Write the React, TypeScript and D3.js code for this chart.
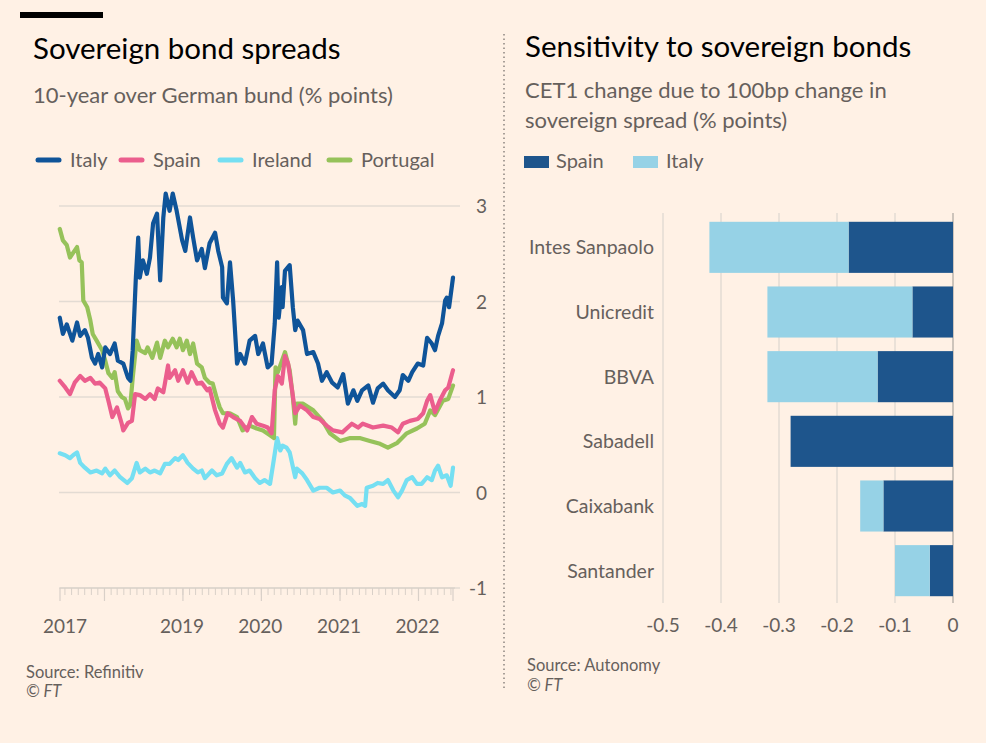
import React from "react";
import * as d3 from "d3";

// ---------- Left chart data (decimal year, % points) ----------
const italy: [number, number][] = [
  [2017.43,1.83],[2017.47,1.66],[2017.52,1.76],[2017.59,1.59],[2017.65,1.78],[2017.69,1.64],[2017.75,1.70],[2017.79,1.62],[2017.84,1.41],[2017.88,1.35],[2017.92,1.45],[2017.97,1.31],[2018.01,1.52],[2018.07,1.45],[2018.13,1.56],[2018.17,1.38],[2018.24,1.35],[2018.30,1.20],[2018.33,1.17],[2018.36,1.49],[2018.40,2.25],[2018.43,2.67],[2018.45,2.25],[2018.49,2.43],[2018.54,2.29],[2018.58,2.46],[2018.62,2.82],[2018.67,2.92],[2018.71,2.22],[2018.75,2.88],[2018.78,3.13],[2018.83,2.95],[2018.87,3.13],[2018.92,2.95],[2018.99,2.64],[2019.03,2.53],[2019.09,2.88],[2019.13,2.67],[2019.18,2.43],[2019.24,2.55],[2019.28,2.35],[2019.34,2.61],[2019.41,2.72],[2019.45,2.53],[2019.50,2.36],[2019.51,2.04],[2019.56,1.98],[2019.60,2.41],[2019.64,2.01],[2019.69,1.35],[2019.73,1.45],[2019.79,1.35],[2019.85,1.59],[2019.92,1.64],[2019.96,1.45],[2020.02,1.56],[2020.08,1.31],[2020.13,1.35],[2020.17,1.77],[2020.20,2.41],[2020.22,1.83],[2020.26,2.15],[2020.27,1.94],[2020.30,2.32],[2020.36,2.38],[2020.40,1.94],[2020.43,1.70],[2020.46,1.80],[2020.53,1.70],[2020.58,1.45],[2020.66,1.47],[2020.72,1.35],[2020.77,1.17],[2020.83,1.26],[2020.90,1.15],[2020.97,1.10],[2021.04,1.24],[2021.10,0.93],[2021.17,1.07],[2021.22,0.96],[2021.28,1.07],[2021.36,1.12],[2021.42,0.94],[2021.48,1.09],[2021.55,1.14],[2021.61,1.07],[2021.70,1.00],[2021.76,1.07],[2021.80,1.23],[2021.87,1.17],[2021.92,1.26],[2021.99,1.35],[2022.06,1.33],[2022.11,1.62],[2022.17,1.56],[2022.21,1.49],[2022.25,1.64],[2022.30,1.77],[2022.34,2.01],[2022.36,2.04],[2022.39,1.94],[2022.44,2.25]
];
const spain: [number, number][] = [
  [2017.43,1.17],[2017.50,1.10],[2017.56,1.03],[2017.62,1.15],[2017.69,1.22],[2017.75,1.17],[2017.82,1.20],[2017.88,1.14],[2017.94,1.15],[2018.01,1.09],[2018.05,0.96],[2018.10,0.79],[2018.16,0.89],[2018.22,0.72],[2018.24,0.65],[2018.30,0.73],[2018.35,0.75],[2018.39,1.03],[2018.45,1.02],[2018.52,0.98],[2018.58,1.03],[2018.64,0.98],[2018.68,1.09],[2018.75,1.05],[2018.77,1.14],[2018.81,1.33],[2018.83,1.20],[2018.90,1.28],[2018.94,1.17],[2019.00,1.28],[2019.06,1.15],[2019.11,1.26],[2019.18,1.14],[2019.24,1.15],[2019.31,1.07],[2019.34,1.09],[2019.41,0.86],[2019.47,0.72],[2019.51,0.68],[2019.57,0.83],[2019.64,0.79],[2019.73,0.75],[2019.82,0.65],[2019.88,0.79],[2019.94,0.72],[2020.02,0.70],[2020.08,0.68],[2020.13,0.62],[2020.17,1.07],[2020.21,1.22],[2020.26,1.14],[2020.30,1.43],[2020.34,1.35],[2020.39,1.07],[2020.43,0.83],[2020.49,0.91],[2020.58,0.86],[2020.66,0.79],[2020.74,0.77],[2020.83,0.70],[2020.91,0.65],[2021.03,0.63],[2021.15,0.72],[2021.23,0.68],[2021.29,0.72],[2021.42,0.68],[2021.55,0.70],[2021.66,0.68],[2021.74,0.63],[2021.80,0.72],[2021.89,0.75],[2021.99,0.77],[2022.06,0.83],[2022.11,0.96],[2022.15,1.02],[2022.21,0.84],[2022.27,0.96],[2022.34,1.07],[2022.38,1.10],[2022.44,1.28]
];
const ireland: [number, number][] = [
  [2017.43,0.41],[2017.50,0.39],[2017.56,0.36],[2017.60,0.39],[2017.65,0.42],[2017.69,0.31],[2017.75,0.26],[2017.82,0.21],[2017.90,0.23],[2017.97,0.20],[2018.01,0.25],[2018.07,0.18],[2018.13,0.23],[2018.20,0.16],[2018.29,0.10],[2018.35,0.15],[2018.41,0.31],[2018.45,0.21],[2018.52,0.25],[2018.58,0.21],[2018.64,0.23],[2018.71,0.20],[2018.77,0.30],[2018.83,0.30],[2018.90,0.36],[2018.94,0.34],[2019.00,0.39],[2019.06,0.31],[2019.13,0.25],[2019.19,0.21],[2019.24,0.23],[2019.28,0.15],[2019.37,0.23],[2019.43,0.18],[2019.50,0.20],[2019.56,0.30],[2019.62,0.36],[2019.69,0.26],[2019.73,0.31],[2019.79,0.21],[2019.85,0.23],[2019.92,0.15],[2019.98,0.10],[2020.04,0.13],[2020.11,0.09],[2020.15,0.30],[2020.20,0.57],[2020.24,0.44],[2020.27,0.49],[2020.32,0.47],[2020.36,0.42],[2020.43,0.16],[2020.45,0.25],[2020.52,0.20],[2020.58,0.13],[2020.66,0.02],[2020.74,0.05],[2020.83,0.05],[2020.91,0.00],[2021.00,0.02],[2021.06,-0.03],[2021.13,-0.06],[2021.22,-0.14],[2021.28,-0.12],[2021.32,-0.14],[2021.34,0.05],[2021.42,0.07],[2021.48,0.10],[2021.55,0.09],[2021.61,0.13],[2021.68,0.02],[2021.74,-0.05],[2021.79,0.02],[2021.85,0.13],[2021.92,0.16],[2021.98,0.09],[2022.04,0.09],[2022.11,0.16],[2022.17,0.13],[2022.21,0.23],[2022.25,0.28],[2022.30,0.16],[2022.36,0.18],[2022.41,0.07],[2022.44,0.26]
];
const portugal: [number, number][] = [
  [2017.43,2.76],[2017.47,2.64],[2017.52,2.59],[2017.56,2.46],[2017.60,2.51],[2017.65,2.57],[2017.68,2.43],[2017.71,2.41],[2017.73,2.01],[2017.78,1.94],[2017.82,1.80],[2017.85,1.66],[2017.90,1.59],[2017.97,1.49],[2018.01,1.38],[2018.05,1.25],[2018.10,1.20],[2018.13,1.26],[2018.17,1.06],[2018.22,1.00],[2018.26,0.98],[2018.30,0.88],[2018.33,0.92],[2018.36,1.20],[2018.41,1.59],[2018.45,1.49],[2018.52,1.46],[2018.55,1.52],[2018.61,1.41],[2018.67,1.57],[2018.71,1.41],[2018.77,1.59],[2018.81,1.52],[2018.87,1.61],[2018.92,1.52],[2018.96,1.61],[2019.00,1.49],[2019.05,1.59],[2019.09,1.45],[2019.13,1.56],[2019.18,1.35],[2019.24,1.31],[2019.28,1.20],[2019.34,1.15],[2019.38,1.14],[2019.43,0.99],[2019.47,0.89],[2019.51,0.83],[2019.60,0.83],[2019.69,0.79],[2019.76,0.65],[2019.85,0.70],[2019.94,0.67],[2020.02,0.65],[2020.11,0.60],[2020.16,0.57],[2020.18,1.31],[2020.21,1.26],[2020.30,1.47],[2020.36,1.28],[2020.40,1.00],[2020.43,0.72],[2020.45,0.93],[2020.53,0.93],[2020.66,0.86],[2020.78,0.75],[2020.87,0.62],[2021.00,0.54],[2021.13,0.57],[2021.25,0.57],[2021.38,0.54],[2021.51,0.51],[2021.61,0.47],[2021.73,0.52],[2021.85,0.62],[2021.98,0.67],[2022.08,0.72],[2022.15,0.86],[2022.21,0.81],[2022.31,0.96],[2022.38,0.98],[2022.44,1.12]
];
const seriesNames = ["Italy", "Spain", "Ireland", "Portugal"];
const seriesColors = ["#0f5499", "#eb5e8d", "#75dff2", "#96c25a"];
const yTicksLeft = [3, 2, 1, 0, -1];
const yearLabels = ["2017", "2019", "2020", "2021", "2022"];
const yearLabelDates = [2017.433, 2019, 2020, 2021, 2022];
const dateStart = 2017.433;
const dateEnd = 2022.44;

// ---------- Right chart data ----------
const banks = ["Intes Sanpaolo", "Unicredit", "BBVA", "Sabadell", "Caixabank", "Santander"];
const spainSens = [-0.18, -0.07, -0.13, -0.28, -0.12, -0.04];
const italySens = [-0.24, -0.25, -0.19, 0, -0.04, -0.06];
const xTicksRight = [-0.5, -0.4, -0.3, -0.2, -0.1, 0];
const barKeys = ["Spain", "Italy"];
const barColors = ["#1e558c", "#96d2e6"];

const FONT = "Lato, 'Open Sans', sans-serif";
const GREY = "#66605c";

function dy(v: number): Date {
  const y = Math.floor(v);
  const s = Date.UTC(y, 0, 1);
  const e = Date.UTC(y + 1, 0, 1);
  return new Date(s + (v - y) * (e - s));
}

export default function App() {
  // Left scales
  const x = d3.scaleUtc().domain([dy(dateStart), dy(dateEnd)]).range([60, 453]);
  const y = d3.scaleLinear().domain([-1, 3]).range([588, 206]);
  const line = d3
    .line<[number, number]>()
    .x((d) => x(dy(d[0])))
    .y((d) => y(d[1]));
  const allSeries = [italy, spain, ireland, portugal];
  const drawOrder = [2, 3, 1, 0];
  const monthTicks = d3.utcMonth.range(dy(dateStart), dy(dateEnd));
  const yearTicks = d3.utcYear.range(dy(dateStart), dy(dateEnd));

  // Right scales
  const xr = d3.scaleLinear().domain([-0.5, 0]).range([663, 953]);
  const yr = d3.scaleBand<string>().domain(banks).range([215, 603]).paddingInner(0.21).paddingOuter(0.105);
  const rows = banks.map((b, i) => ({ bank: b, Spain: spainSens[i], Italy: italySens[i] }));
  const stacked = d3
    .stack<any>()
    .keys(barKeys)
    .offset(d3.stackOffsetDiverging)(rows);

  return (
    <svg
      width={996}
      height={750}
      style={{ position: "absolute", left: 0, top: 0, fontFamily: FONT }}
    >
      <rect x={0} y={0} width={996} height={750} fill="#ffffff" />
      <rect x={0} y={0} width={986} height={743} fill="#fff1e5" />
      <rect x={20} y={12} width={83} height={6} fill="#000" />

      {/* Left titles */}
      <text x={33} y={59} fontSize={29.5} fill="#000">Sovereign bond spreads</text>
      <text x={33} y={103} fontSize={22} fill={GREY}>10-year over German bund (% points)</text>

      {/* Left legend */}
      {[36, 119, 218, 327].map((lx, i) => (
        <g key={seriesNames[i]}>
          <line x1={lx + 2} x2={lx + 23} y1={160} y2={160} stroke={seriesColors[i]} strokeWidth={5} strokeLinecap="round" />
          <text x={lx + 34} y={167} fontSize={20} fill={GREY}>{seriesNames[i]}</text>
        </g>
      ))}

      {/* Left grid */}
      {yTicksLeft.map((t) => (
        <g key={t}>
          <line x1={59} x2={460} y1={y(t)} y2={y(t)} stroke="#e3dbd3" strokeWidth={1.5} />
          <text x={487} y={y(t) + 7} fontSize={19} fill={GREY} textAnchor="end">{t}</text>
        </g>
      ))}
      {/* x ticks */}
      <line x1={60} x2={455} y1={588} y2={588} stroke="#ddd4cc" strokeWidth={1.5} />
      {monthTicks.map((d, i) => (
        <line key={"m" + i} x1={x(d)} x2={x(d)} y1={588} y2={595} stroke="#d9d0c8" strokeWidth={1} />
      ))}
      {[dy(dateStart), ...yearTicks, dy(dateEnd)].map((d, i) => (
        <line key={"y" + i} x1={x(d)} x2={x(d)} y1={588} y2={601} stroke="#d9d0c8" strokeWidth={1.2} />
      ))}
      {yearLabels.map((l, i) => (
        <text key={l} x={x(dy(yearLabelDates[i])) + (i === 0 ? 5 : -1)} y={633} fontSize={19} fill={GREY} textAnchor="middle">{l}</text>
      ))}

      {/* Lines */}
      {drawOrder.map((i) => (
        <path key={seriesNames[i]} d={line(allSeries[i]) || ""} fill="none" stroke={seriesColors[i]} strokeWidth={4.2} strokeLinejoin="round" strokeLinecap="round" />
      ))}

      <text x={26} y={678} fontSize={16.5} fill={GREY}>Source: Refinitiv</text>
      <text x={26} y={697} fontSize={16.5} fill={GREY} fontStyle="italic">© FT</text>

      {/* Divider */}
      <line x1={504} x2={504} y1={34} y2={690} stroke="#7a7470" strokeWidth={1.3} strokeDasharray="1.5 3" />

      {/* Right titles */}
      <text x={525} y={57} fontSize={29.5} fill="#000">Sensitivity to sovereign bonds</text>
      <text x={525} y={98} fontSize={22} fill={GREY}>CET1 change due to 100bp change in</text>
      <text x={525} y={128} fontSize={22} fill={GREY}>sovereign spread (% points)</text>

      {/* Right legend */}
      {barKeys.map((k, i) => (
        <g key={k}>
          <rect x={[524, 633][i]} y={156} width={25} height={12} fill={barColors[i]} />
          <text x={[556, 666][i]} y={168} fontSize={20} fill={GREY}>{k}</text>
        </g>
      ))}

      {/* Right grid */}
      {xTicksRight.map((t) => (
        <g key={t}>
          <line x1={xr(t)} x2={xr(t)} y1={213} y2={603} stroke={t === 0 ? "#bcb4ad" : "#e3dbd3"} strokeWidth={1.5} />
          <text x={xr(t)} y={632} fontSize={19} fill={GREY} textAnchor="middle">{t === 0 ? "0" : String(t)}</text>
        </g>
      ))}

      {/* Bars */}
      {stacked.map((s, si) => (
        <g key={barKeys[si]} fill={barColors[si]}>
          {s.map((d: any, i: number) => {
            const x0 = xr(Math.min(d[0], d[1]));
            const x1 = xr(Math.max(d[0], d[1]));
            return x1 - x0 > 0 ? (
              <rect key={i} x={x0} y={yr(banks[i])} width={x1 - x0} height={yr.bandwidth()} />
            ) : null;
          })}
        </g>
      ))}

      {/* Bank labels */}
      {banks.map((b) => (
        <text key={b} x={654} y={(yr(b) || 0) + yr.bandwidth() / 2 + 7} fontSize={19.5} fill={GREY} textAnchor="end">{b}</text>
      ))}

      <text x={527} y={671} fontSize={16.5} fill={GREY}>Source: Autonomy</text>
      <text x={527} y={691} fontSize={16.5} fill={GREY} fontStyle="italic">© FT</text>
    </svg>
  );
}
